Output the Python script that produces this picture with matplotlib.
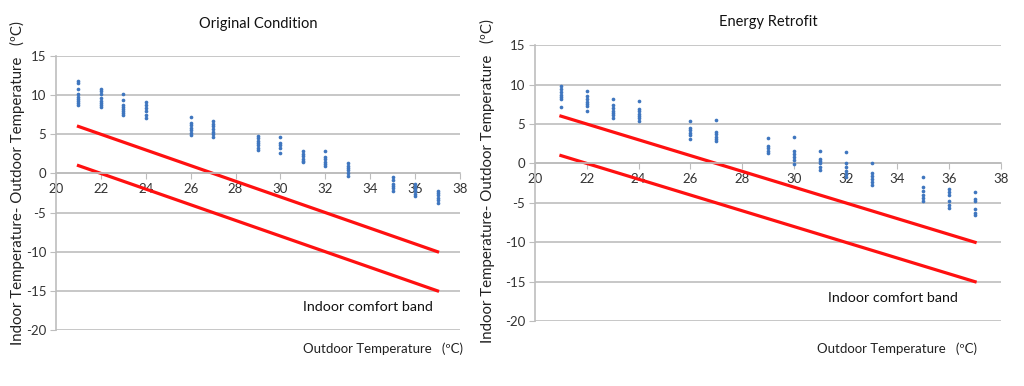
import matplotlib
matplotlib.use("Agg")
import matplotlib.pyplot as plt
import numpy as np

plt.rcParams['font.family'] = ['Lato', 'DejaVu Sans']
plt.rcParams['axes.unicode_minus'] = False

# ---- data ----
outdoor_x = [21, 22, 23, 24, 26, 27, 29, 30, 31, 32, 33, 35, 36, 37]

orig_vals = [
    [11.8, 11.5, 10.8, 10.2, 9.8, 9.5, 9.2, 9.0, 8.8],
    [10.8, 10.5, 10.2, 9.6, 9.3, 9.0, 8.7, 8.5],
    [10.2, 9.4, 8.8, 8.5, 8.2, 8.0, 7.7, 7.5],
    [9.1, 8.8, 8.3, 8.0, 7.5, 7.1],
    [7.2, 6.5, 6.2, 5.8, 5.5, 5.2, 4.9],
    [6.7, 6.3, 6.0, 5.7, 5.3, 5.0, 4.7],
    [4.8, 4.5, 4.2, 3.9, 3.6, 3.3, 3.0],
    [4.6, 3.9, 3.6, 3.3, 2.6],
    [2.9, 2.5, 2.2, 1.9, 1.6, 1.4],
    [2.8, 2.1, 1.8, 1.5, 1.2, 0.9],
    [1.3, 1.0, 0.7, 0.4, 0.1, -0.3],
    [-0.5, -0.9, -1.3, -1.6, -1.9, -2.2],
    [-1.3, -1.7, -2.0, -2.3, -2.6, -2.9],
    [-2.2, -2.5, -2.8, -3.1, -3.4, -3.8],
]

retro_vals = [
    [9.8, 9.4, 9.0, 8.7, 8.4, 8.2, 7.2],
    [9.2, 8.6, 8.2, 7.8, 7.5, 7.3, 6.7],
    [8.2, 7.4, 7.0, 6.7, 6.4, 6.1, 5.8],
    [7.9, 6.9, 6.6, 6.3, 6.0, 5.7, 5.4],
    [5.4, 4.5, 4.2, 3.9, 3.6, 3.1],
    [5.5, 4.0, 3.7, 3.4, 3.1, 2.9],
    [3.2, 2.2, 1.9, 1.6, 1.3],
    [3.4, 1.6, 1.2, 0.8, 0.4, -0.1],
    [1.6, 0.6, 0.3, 0.0, -0.4, -0.8],
    [1.4, 0.0, -0.4, -1.0, -1.4, -1.7],
    [0.0, -1.2, -1.6, -2.0, -2.3, -2.7],
    [-1.7, -3.0, -3.5, -4.0, -4.4, -4.8],
    [-3.2, -3.6, -4.0, -4.8, -5.3, -5.6],
    [-3.6, -4.5, -4.8, -5.8, -6.3, -6.6],
]

band_x = [21, 37]
band_upper = [6, -10]
band_lower = [1, -15]

titles = ["Original Condition", "Energy Retrofit"]
xticks = [20, 22, 24, 26, 28, 30, 32, 34, 36, 38]
yticks = [-20, -15, -10, -5, 0, 5, 10, 15]

fig = plt.figure(figsize=(10.24, 3.86), dpi=100)

positions = [[0.0547, 0.145, 0.3945, 0.710], [0.5225, 0.168, 0.455, 0.715]]
title_y = [1.07, 1.04]
ylabel_x = [0.017, 0.476]
ylabel_y = [0.525, 0.53]
xlabel_pos = [(0.452, 0.097), (0.954, 0.097)]
band_text = [(31.0, -17.0), (31.3, -17.1)]

for i, vals in enumerate([orig_vals, retro_vals]):
    ax = fig.add_axes(positions[i])
    xs = []
    ys = []
    for xv, col in zip(outdoor_x, vals):
        xs.extend([xv] * len(col))
        ys.extend(col)
    ax.scatter(xs, ys, s=7, color="#3f76bf", zorder=3, linewidths=0)
    ax.plot(band_x, band_upper, color="#ff1010", lw=2.3, zorder=2)
    ax.plot(band_x, band_lower, color="#ff1010", lw=2.3, zorder=2)

    ax.set_xlim(20, 38)
    ax.set_ylim(-20, 15)
    ax.set_xticks(xticks)
    ax.set_yticks(yticks)
    ax.yaxis.grid(True, color="#bdbdbd", lw=1.2)
    ax.set_axisbelow(True)
    for s in ["top", "right"]:
        ax.spines[s].set_visible(False)
    ax.spines["left"].set_color("#bdbdbd")
    ax.spines["left"].set_linewidth(1.2)
    ax.spines["bottom"].set_position(("data", 0))
    ax.spines["bottom"].set_color("#bdbdbd")
    ax.spines["bottom"].set_linewidth(1.2)
    ax.tick_params(axis="x", direction="out", length=4, color="#bdbdbd",
                   labelsize=9.5, labelcolor="#333333", pad=3)
    ax.tick_params(axis="y", direction="out", length=4, color="#bdbdbd",
                   labelsize=9.5, labelcolor="#333333", pad=3)
    ax.set_title(titles[i], fontsize=10.5, y=title_y[i], color="#111111")
    ax.text(band_text[i][0], band_text[i][1], "Indoor comfort band",
            fontsize=10.3, color="#111111", va="center", ha="left")
    fig.text(ylabel_x[i], ylabel_y[i],
             "Indoor Temperature- Outdoor Temperature   (ºC)",
             rotation=90, fontsize=10.8, color="#222222", va="center", ha="center")
    fig.text(xlabel_pos[i][0], xlabel_pos[i][1],
             "Outdoor Temperature   (ºC)", fontsize=9.5, color="#222222",
             ha="right", va="center")

fig.savefig("out.png", dpi=100, facecolor="white")
